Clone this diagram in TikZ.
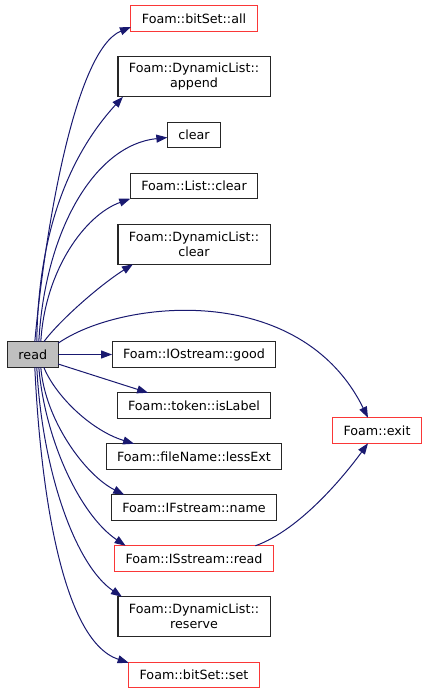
\documentclass[tikz,border=0pt]{standalone}
\usepackage{fontspec}
\setmainfont{DejaVu Sans}
\usetikzlibrary{arrows.meta, positioning}
\definecolor{edgeblue}{HTML}{191970}
\definecolor{redline}{RGB}{250,55,55}

\begin{document}
\begin{tikzpicture}[x=1pt, y=-1pt,
        b/.style={rectangle, draw=black!85, line width=1.1pt, fill=white,
                  font=\fontsize{12.7}{15}\selectfont, align=center, outer sep=0pt,
                  inner xsep=11pt, inner ysep=2pt, minimum height=25.5pt},
        rb/.style={b, draw=redline},
        tall/.style={minimum height=40pt},
        arr/.style={-{Triangle[length=11pt,width=8pt]}, line width=1pt, edgeblue},
        node distance=25.5pt]
      \useasboundingbox (0,0) rectangle (428,693);
      \node[rb] (all) at (194,18.5) {Foam::bitSet::all};
      \node[b, tall, below=of all] (append) {Foam::DynamicList::\\append};
      \node[b, below=of append] (clear) {clear};
      \node[b, below=of clear] (lclear) {Foam::List::clear};
      \node[b, tall, below=of lclear] (dclear) {Foam::DynamicList::\\clear};
      \node[b, below=77.5pt of dclear] (good) {Foam::IOstream::good};
      \node[b, fill=black!25, left=54pt of good] (read) {read};
      \node[b, below=of good] (islabel) {Foam::token::isLabel};
      \node[b, below=of islabel] (lessext) {Foam::fileName::lessExt};
      \node[b, below=of lessext] (name) {Foam::IFstream::name};
      \node[rb, below=of name] (isread) {Foam::ISstream::read};
      \node[b, tall, below=of isread] (reserve) {Foam::DynamicList::\\reserve};
      \node[rb, below=of reserve] (set) {Foam::bitSet::set};
      \node[rb] (exit) at (377,430.5) {Foam::exit};
      % calls from read
      \draw[arr] ([xshift=2pt]read.north) .. controls (45,230) and (75,50) .. ([yshift=-8.5pt]all.west);
      \draw[arr] ([xshift=4pt]read.north) .. controls (38,240) and (65,160) .. ([xshift=5pt]append.south west);
      \draw[arr] ([xshift=6pt]read.north) .. controls (45,230) and (95,145) .. ([yshift=-2.5pt]clear.west);
      \draw[arr] ([xshift=8pt]read.north) .. controls (45,270) and (85,215) .. (lclear.south west);
      \draw[arr] ([xshift=11pt]read.north) .. controls (60,320) and (100,285) .. ([xshift=15pt]dclear.south west);
      \draw[arr] ([yshift=-1.5pt]read.north east) .. controls (120,300) and (300,280) .. ([xshift=-9pt]exit.north);
      \draw[arr] (read.east) -- (good.west);
      \draw[arr] ([yshift=-9.5pt]read.east) -- ([xshift=31pt]islabel.north west);
      \draw[arr] ([xshift=11pt]read.south) .. controls (55,395) and (90,430) .. ([xshift=28pt]lessext.north west);
      \draw[arr] ([xshift=8pt]read.south) .. controls (45,420) and (85,475) .. ([xshift=13pt]name.north west);
      \draw[arr] ([xshift=6pt]read.south) .. controls (45,440) and (80,515) .. ([xshift=11pt]isread.north west);
      \draw[arr] ([xshift=4pt]read.south) .. controls (42,470) and (75,565) .. ([xshift=4pt]reserve.north west);
      \draw[arr] ([xshift=2pt]read.south) .. controls (40,480) and (60,640) .. ([yshift=-0.5pt]set.north west);
      % further call
      \draw[arr] ([xshift=-18pt]isread.north east) .. controls (300,530) and (345,475) .. ([xshift=-9pt]exit.south);
    \end{tikzpicture}
\end{document}
